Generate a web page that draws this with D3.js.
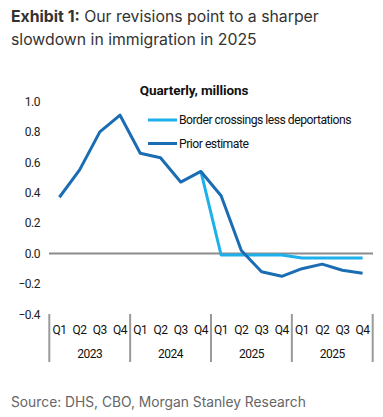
<!DOCTYPE html>
<html><head><meta charset="utf-8">
<script src="https://cdn.jsdelivr.net/npm/d3@7"></script>
<style>
body{margin:0;background:#fff;}
svg{display:block;}
.t{font-family:Inter,"Noto Sans",sans-serif;}
.c{font-family:Roboto,"Liberation Sans",sans-serif;letter-spacing:-0.5px;}
</style></head>
<body>
<svg id="chart" width="383" height="417"></svg>
<script>
const years = ["2023","2024","2025","2025"];
const quarters = ["Q1","Q2","Q3","Q4"];
const priorEstimate = [0.37,0.55,0.80,0.91, 0.66,0.63,0.47,0.54, 0.38,0.02,-0.12,-0.15, -0.10,-0.07,-0.11,-0.13];
const borderLessDeport = [null,null,null,null, null,null,null,0.54, -0.01,-0.01,-0.01,-0.01, -0.03,-0.03,-0.03,-0.03];
const yTicks = [1.0,0.8,0.6,0.4,0.2,0.0,-0.2,-0.4];
const seriesNames = ["Border crossings less deportations","Prior estimate"];
const colors = ["#1eb0ea","#1a6db3"];

const svg = d3.select("#chart");
const cats = [];
years.forEach((y,yi)=>quarters.forEach(q=>cats.push(yi+"-"+q)));

const x = d3.scaleBand().domain(cats).range([49.3,372.7]).padding(0);
const y = d3.scaleLinear().domain([-0.4,1.0]).range([314.3,101.5]);

// Title
const title = svg.append("text").attr("class","t").attr("x",11).attr("y",22)
  .attr("font-size",15.8).attr("fill","#333");
title.append("tspan").attr("font-weight","bold").text("Exhibit 1:");
title.append("tspan").text(" Our revisions point to a sharper");
svg.append("text").attr("class","t").attr("x",11).attr("y",45)
  .attr("font-size",15.8).attr("fill","#333").text("slowdown in immigration in 2025");

// Subtitle
svg.append("text").attr("x",194).attr("y",95)
  .attr("text-anchor","middle").attr("font-size",13.5).attr("font-weight","bold")
  .style("font-family","Roboto,'Liberation Sans',sans-serif").style("letter-spacing","-0.1px")
  .attr("fill","#111").text("Quarterly, millions");

// Y axis
const yAxis = svg.append("g").attr("class","c").attr("transform","translate(40,0)")
  .call(d3.axisLeft(y).tickValues(yTicks).tickSize(0).tickPadding(0).tickFormat(d3.format(".1f")));
yAxis.select(".domain").remove();
yAxis.selectAll("text").attr("font-size",12).attr("fill","#222")
  .style("font-family","Roboto,'Liberation Sans',sans-serif");

// zero line
svg.append("line").attr("x1",49).attr("x2",373).attr("y1",y(0)).attr("y2",y(0))
  .attr("stroke","#8c8c8c").attr("stroke-width",2);

// lines
const line = d3.line().defined(d=>d.v!==null).x(d=>x(d.k)+x.bandwidth()/2).y(d=>y(d.v));
const mk = arr => arr.map((v,i)=>({k:cats[i],v}));
svg.append("path").datum(mk(borderLessDeport)).attr("d",line)
  .attr("fill","none").attr("stroke",colors[0]).attr("stroke-width",3).attr("stroke-linejoin","round");
svg.append("path").datum(mk(priorEstimate)).attr("d",line)
  .attr("fill","none").attr("stroke",colors[1]).attr("stroke-width",3).attr("stroke-linejoin","round");

// Legend
seriesNames.forEach((n,i)=>{
  const ly = 120 + i*23.5;
  svg.append("line").attr("x1",148).attr("x2",177).attr("y1",ly).attr("y2",ly)
    .attr("stroke",colors[i]).attr("stroke-width",3);
  svg.append("text").attr("class","c").attr("x",179).attr("y",ly+4)
    .attr("font-size",12.2).attr("fill","#111").text(n);
});

// X axis grouped
const xa = svg.append("g").attr("class","c");
cats.forEach((k,i)=>{
  xa.append("text").attr("x",x(k)+x.bandwidth()/2).attr("y",334)
    .attr("text-anchor","middle").attr("font-size",12).attr("fill","#111").text(quarters[i%4]);
});
years.forEach((yr,yi)=>{
  const x0 = x(yi+"-Q1"), x1 = x(yi+"-Q4")+x.bandwidth();
  xa.append("text").attr("x",(x0+x1)/2).attr("y",358)
    .attr("text-anchor","middle").attr("font-size",12).attr("fill","#111").text(yr);
});
const seps = d3.range(years.length+1).map(i=> i<years.length ? x(i+"-Q1") : x.range()[1]);
seps.forEach(sx=>{
  xa.append("line").attr("x1",sx).attr("x2",sx).attr("y1",314).attr("y2",362)
    .attr("stroke","#9a9a9a").attr("stroke-width",2);
});

// Source
svg.append("text").attr("class","t").attr("x",11).attr("y",407)
  .attr("font-size",13.8).attr("fill","#666").text("Source: DHS, CBO, Morgan Stanley Research");
</script>
</body></html>
